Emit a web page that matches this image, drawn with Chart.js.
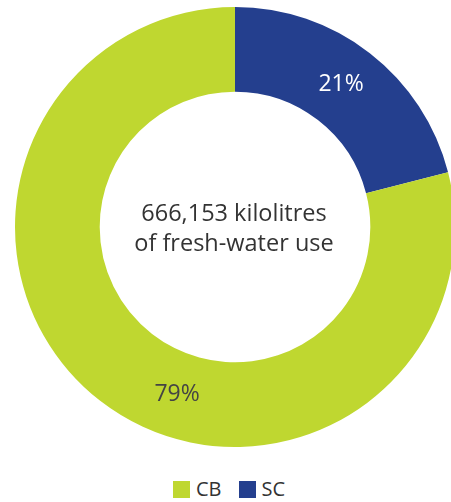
<!DOCTYPE html>
<html>
<head>
<meta charset="utf-8">
<script src="https://cdn.jsdelivr.net/npm/chart.js@4"></script>
<style>
  html, body { margin: 0; padding: 0; background: #fff; overflow: hidden; width: 451px; height: 502px; }
  #wrap { position: absolute; left: 0; top: 0; width: 470px; height: 454px; }
  #legend { position: absolute; top: 478px; left: 173px; display: flex; align-items: center;
            font-family: "Open Sans", sans-serif; font-size: 20px; color: #333; }
  #legend span.box { display: inline-block; width: 17px; height: 17px; margin-right: 6px; }
  #legend span.item { display: inline-flex; align-items: center; margin-right: 17px; line-height: 22px; }
</style>
</head>
<body>
<div id="wrap"><canvas id="waterChart"></canvas></div>
<div id="legend"></div>
<script>
const categories = ["SC", "CB"];
const shares = [21, 79];
const colours = ["#243f8e", "#bfd730"];
const centreLines = ["666,153 kilolitres", "of fresh-water use"];
const legendOrder = ["CB", "SC"];

// where along each slice its label sits (0 = start, 1 = end)
const labelSpots = [0.485, 0.434];
const labelColours = ["#ffffff", "#444444"];

const sliceLabels = {
    id: 'sliceLabels',
    afterDatasetsDraw(chart) {
        const ctx = chart.ctx;
        const arcs = chart.getDatasetMeta(0).data;
        ctx.save();
        ctx.font = '23px "Open Sans"';
        ctx.textAlign = 'center';
        ctx.textBaseline = 'middle';
        arcs.forEach((arc, i) => {
            const a = arc.startAngle + (arc.endAngle - arc.startAngle) * labelSpots[i];
            const r = (arc.innerRadius + arc.outerRadius) / 2;
            ctx.fillStyle = labelColours[i];
            ctx.fillText(shares[i] + '%', arc.x + Math.cos(a) * r, arc.y + Math.sin(a) * r);
        });
        // centre text
        const x = arcs[0].x, y = arcs[0].y;
        ctx.font = '23.5px "Open Sans"';
        ctx.fillStyle = '#333333';
        ctx.fillText(centreLines[0], x - 1, y - 13);
        ctx.fillText(centreLines[1], x - 1, y + 17);
        ctx.restore();
    }
};

const ctx = document.getElementById('waterChart').getContext('2d');
new Chart(ctx, {
    type: 'doughnut',
    data: {
        labels: categories,
        datasets: [{
            data: shares,
            backgroundColor: colours,
            borderWidth: 0
        }]
    },
    options: {
        responsive: true,
        maintainAspectRatio: false,
        animation: false,
        cutout: '61.5%',
        layout: { padding: { top: 7, bottom: 7 } },
        plugins: {
            legend: { display: false },
            tooltip: { enabled: false }
        }
    },
    plugins: [sliceLabels]
});

const legend = document.getElementById('legend');
legendOrder.forEach(name => {
    const i = categories.indexOf(name);
    const item = document.createElement('span');
    item.className = 'item';
    item.innerHTML = '<span class="box" style="background:' + colours[i] + '"></span>' + name;
    legend.appendChild(item);
});
</script>
</body>
</html>
